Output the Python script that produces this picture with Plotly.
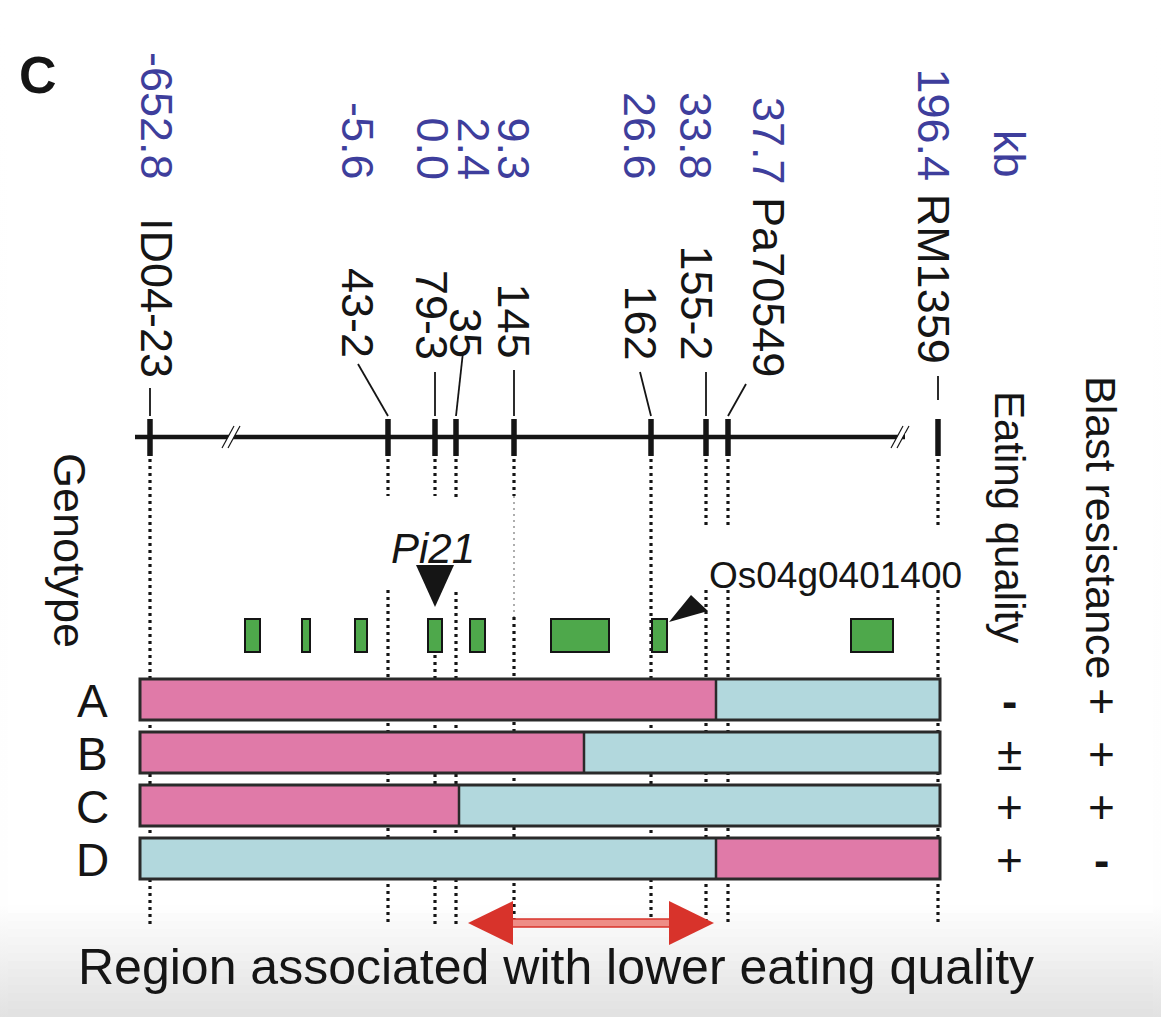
import plotly.graph_objects as go

# ---------------- data ----------------
markers = ["ID04-23", "43-2", "79-3", "35", "145", "162", "155-2", "Pa70549", "RM1359"]
kb_pos = ["-652.8", "-5.6", "0.0", "2.4", "9.3", "26.6", "33.8", "37.7", "196.4"]
marker_map = [150, 388, 435, 456, 514, 651, 706, 728, 938]   # map position of each marker

gene_start = [245, 302, 355, 428, 470, 551, 652, 851]
gene_end = [260, 310, 367, 442, 485, 609, 667, 893]
pi21_gene = 3
os04_gene = 6

genotypes = ["A", "B", "C", "D"]
segment_start = [140, 140, 140, 140]
segment_split = [716, 584, 459, 716]
segment_end = [940, 940, 940, 940]
left_allele = ["donor", "donor", "donor", "recipient"]
eating_quality = ["-", "\u00b1", "+", "+"]
blast_resistance = ["+", "+", "+", "-"]

region_start = 468
region_end = 714

# ---------------- style ----------------
FONT = "Liberation Sans, Arial, Helvetica, sans-serif"
BLACK = "#151515"
BLUE = "#3e3e9c"
PINK = "#e07aa8"
LBLUE = "#b2d8dd"
GREEN = "#4ea84b"
RED = "#d8332b"
allele_color = {"donor": PINK, "recipient": LBLUE}

W, H = 1161, 1017
OFF = 8  # page body margin of the html page
GRAD_TOP = 905
shapes = []
ann = []


def line(x0, y0, x1, y1, color=BLACK, width=2, dash="solid", layer="above"):
    shapes.append(dict(type="line", x0=x0, y0=y0, x1=x1, y1=y1, xref="x", yref="y",
                       line=dict(color=color, width=width, dash=dash), layer=layer))


def rect(x0, y0, x1, y1, fill, lc=BLACK, lw=0, layer="above"):
    shapes.append(dict(type="rect", x0=x0, y0=y0, x1=x1, y1=y1, xref="x", yref="y",
                       fillcolor=fill, line=dict(color=lc, width=lw), layer=layer))


def path(d, fill, lc=None, lw=0):
    shapes.append(dict(type="path", path=d, xref="x", yref="y", fillcolor=fill,
                       line=dict(color=lc or fill, width=lw), layer="above"))


def text(x, y, t, size, color=BLACK, angle=0, xa="center", ya="middle", bold=False, italic=False):
    if bold:
        t = "<b>" + t + "</b>"
    if italic:
        t = "<i>" + t + "</i>"
    ann.append(dict(x=x, y=y, xref="x", yref="y", text=t, showarrow=False,
                    textangle=angle, xanchor=xa, yanchor=ya,
                    font=dict(family=FONT, size=size, color=color)))


# bottom grey gradient (photo background)
n_strips = 14
for i in range(n_strips):
    g = int(254 - 28 * i / (n_strips - 1))
    y0 = GRAD_TOP + i * (H - GRAD_TOP) / n_strips
    rect(0, y0, W + 5, H + 5, f"rgb({g},{g},{g})", layer="below")

# panel letter
text(38, 75, "C", 52, bold=True)

# ---------------- marker labels ----------------
label_x = [157, 358, 432, 466, 513, 640, 696, 769, 933]
name_end = [380, 360, 362, 360, 360, 362, 362, 366, 366]
for i, (m, k) in enumerate(zip(markers, kb_pos)):
    if m in ("Pa70549", "RM1359"):
        top = 95 if m == "Pa70549" else 66
        t = f'<span style="color:{BLUE}">{k}</span> {m}'
        text(label_x[i], top, t, 45, angle=90, ya="top")
    else:
        bx = 473 if m == "35" else label_x[i]
        text(bx, 182, k, 45, color=BLUE, angle=90, ya="bottom")
        text(label_x[i], name_end[i], m, 45, angle=90, ya="bottom")
text(1010, 128, "kb", 45, color=BLUE, angle=90, ya="top")

# leader lines from labels to ticks
leader_top = [(150, 388), (358, 364), (435, 372), (463, 352), (514, 370),
              (640, 372), (706, 372), (746, 384), (938, 376)]
for (lx, ly), mx in zip(leader_top, marker_map):
    line(lx, ly, mx, 416 if mx != 938 else 400, width=1.8)

# ---------------- chromosome line ----------------
y_chr = 437
line(135, y_chr, 905, y_chr, width=4.5)
# break marks
for bx in (231, 900):
    line(bx - 6, y_chr + 11, bx + 6, y_chr - 11, color="white", width=5)
    line(bx - 9, y_chr + 11, bx + 3, y_chr - 11, width=1.2)
    line(bx - 3, y_chr + 11, bx + 9, y_chr - 11, width=1.2)
line(905, y_chr - 1, 908, y_chr - 1, color="white", width=5)
for mx in marker_map:
    line(mx, 419, mx, 456, width=5.5)

# ---------------- dotted guides ----------------
upper_end = [925, 496, 496, 500, 496, 925, 527, 527, 527]
lower_start = [None, 590, 655, 592, 617, None, 590, 590, 590]
faint_between = [False, False, False, False, True, False, False, False, False]
DOT = "3px,4px"
for mx, ue, ls, fb in zip(marker_map, upper_end, lower_start, faint_between):
    line(mx, 459, mx, ue, width=3.2, dash=DOT, layer="below")
    if ls is not None:
        line(mx, ls, mx, 925, width=3.2, dash=DOT, layer="below")
        if fb:
            line(mx, ue, mx, ls, color="#9a9a9a", width=1.6, dash="2px,4px", layer="below")

# ---------------- genes ----------------
for gs, ge in zip(gene_start, gene_end):
    rect(gs, 619, ge, 652, GREEN, lw=2)

px = (gene_start[pi21_gene] + gene_end[pi21_gene]) / 2
path(f"M {px-19},565 L {px+19},565 L {px},607 Z", BLACK)
text(px - 2, 548, "Pi21", 42, italic=True)

ox = gene_end[os04_gene]
path(f"M {ox+2},622 L {ox+24},595 L {ox+41},611 Z", BLACK)
text(835, 575, "Os04g0401400", 37)

# ---------------- genotypes ----------------
row_top0, row_step, row_h = 679, 53, 41
for i, g in enumerate(genotypes):
    y0 = row_top0 + i * row_step
    y1 = y0 + row_h
    lc = allele_color[left_allele[i]]
    rc = LBLUE if left_allele[i] == "donor" else PINK
    rect(segment_start[i], y0, segment_split[i], y1, lc)
    rect(segment_split[i], y0, segment_end[i], y1, rc)
    rect(segment_start[i], y0, segment_end[i], y1, "rgba(0,0,0,0)", lc="#2a2a2a", lw=3)
    line(segment_split[i], y0, segment_split[i], y1, color="#2a2a2a", width=2.5)
    yc = (y0 + y1) / 2
    text(92, yc + 1, g, 46)
    text(1009, yc + 1, eating_quality[i], 46, bold=(eating_quality[i] == "-"))
    text(1101, yc + 1, blast_resistance[i], 46, bold=(blast_resistance[i] == "-"))

text(70, 550, "Genotype", 45, angle=90)
text(1010, 517, "Eating quality", 42, angle=90)
text(1101, 528, "Blast resistance", 43, angle=90)

# ---------------- region arrow ----------------
ya = 923
rect(region_start + 44, ya - 4, region_end - 44, ya + 4, "#ee8d86", lc=RED, lw=1.5)
path(f"M {region_start},{ya} L {region_start+45},{ya-22} L {region_start+45},{ya+22} Z", RED)
path(f"M {region_end},{ya} L {region_end-45},{ya-22} L {region_end-45},{ya+22} Z", RED)
text(556, 967, "Region associated with lower eating quality", 50)

fig = go.Figure()
fig.add_trace(go.Scatter(x=marker_map, y=[y_chr] * len(marker_map), mode="markers",
                         marker=dict(size=1, color="rgba(0,0,0,0)"), hoverinfo="skip",
                         showlegend=False))
fig.update_layout(
    width=W - OFF, height=H - OFF, margin=dict(l=0, r=0, t=0, b=0, pad=0),
    paper_bgcolor="white", plot_bgcolor="white",
    xaxis=dict(range=[OFF, W], visible=False, fixedrange=True),
    yaxis=dict(range=[H, OFF], visible=False, fixedrange=True),
    shapes=shapes, annotations=ann, showlegend=False,
)
body_bg = (
    "document.body.style.background="
    f"'linear-gradient(to bottom, #ffffff 0px, #fefefe {GRAD_TOP}px, #e2e2e2 {H}px)';"
    "document.body.style.overflow='hidden';"
)
fig.write_html("out.html", post_script=body_bg)
